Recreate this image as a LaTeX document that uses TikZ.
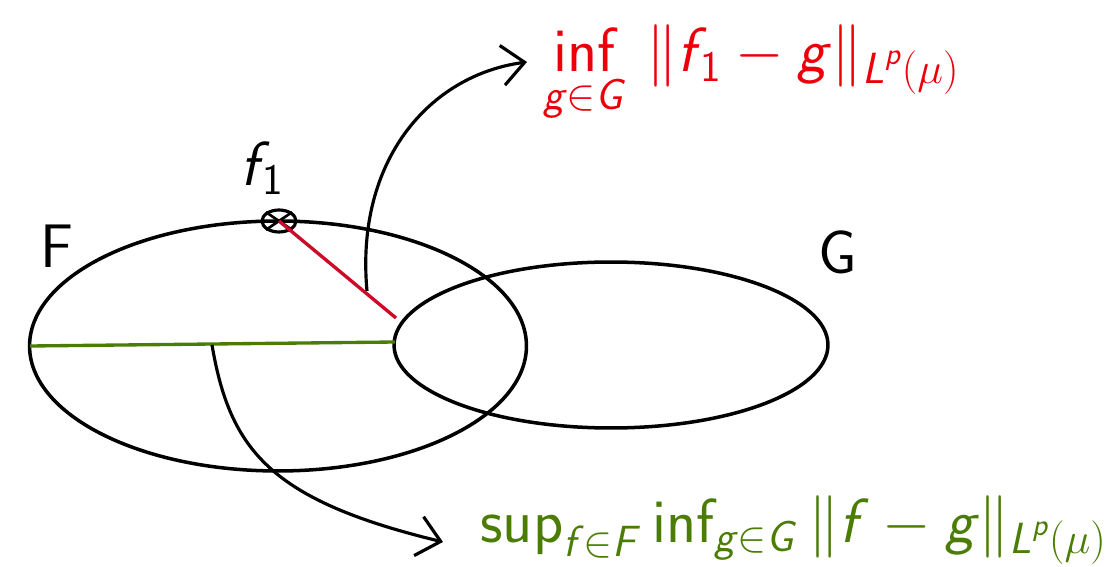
\RequirePackage{fix-cm}
\documentclass[tikz,border=0pt]{standalone}
\usepackage{amsmath}
\usetikzlibrary{shapes.geometric,arrows.meta}
\definecolor{myred}{RGB}{235,0,10}
\definecolor{lred}{RGB}{205,10,40}
\definecolor{mygreen}{RGB}{75,125,5}
\newcommand\sv[1]{\textsf{\textit{#1}}}
\newcommand\su[1]{\textsf{#1}}
\newcommand\sinf{\operatorname*{\textsf{inf}}}
\tikzset{
  setline/.style={draw=black,line width=2pt,ellipse,inner sep=0pt},
  conn/.style={draw=black,line width=1.8pt,-{Straight Barb[length=4.5mm,width=8mm,line width=1.8pt]}},
  lbl/.style={font=\fontsize{35}{40}\selectfont\sffamily,inner sep=0pt},
  mlbl/.style={font=\fontsize{35.5}{42}\selectfont,inner sep=0pt},
}
\begin{document}
\begin{tikzpicture}[x=0.02cm,y=-0.02cm]
\useasboundingbox (0,0) rectangle (1115,567);
% sets
\node[setline,minimum width=9.94cm,minimum height=5.0cm] (F) at (278,346) {};
\node[setline,minimum width=8.68cm,minimum height=3.32cm] (G) at (611,345) {};
\node[lbl] (Fl) at (57,246) {F};
\node[lbl] (Gl) at (838,252) {G};
% distance lines
\coordinate (gL) at (30,346);
\coordinate (gR) at (395,342);
\coordinate (rE) at (396,318);
\draw[mygreen,line width=1.9pt] (gL) -- (gR);
% point f1
\node[draw=black,line width=1.8pt,ellipse,minimum width=0.68cm,minimum height=0.44cm,inner sep=0pt] (f1) at (279,221) {};
\draw[line width=1.5pt] (f1.north west) -- (f1.south east) (f1.north east) -- (f1.south west);
\node[mlbl] (f1l) at (262,168) {$\sv{f}_{\!\su{1}}$};
\draw[lred,line width=1.9pt] (f1.center) -- (rE);
\coordinate (rS) at (367,291);
\coordinate (gS) at (212,345);
% labels
\node[mlbl,text=myred,anchor=west] (inf) at (543,74) {$\displaystyle\sinf_{\sv{g}\in \sv{G}}\,\|\sv{f}_{\!\su{1}}-\sv{g}\|_{\sv{L}^{\sv{p}}(\mu)}$};
\node[mlbl,text=mygreen,anchor=west] (sup) at (480,530) {$\textsf{sup}_{\sv{f}\in \sv{F}}\,\textsf{inf}_{\sv{g}\in \sv{G}}\,\|\sv{f}-\sv{g}\|_{\sv{L}^{\sv{p}}(\mu)}$};
% connectors
\coordinate (aT) at (527,62);
\coordinate (aB) at (443,542);
\draw[conn] (rS) .. controls (355,160) and (430,75) .. (aT);
\draw[conn] (gS) .. controls (230,450) and (270,500) .. (aB);
\end{tikzpicture}
\end{document}
